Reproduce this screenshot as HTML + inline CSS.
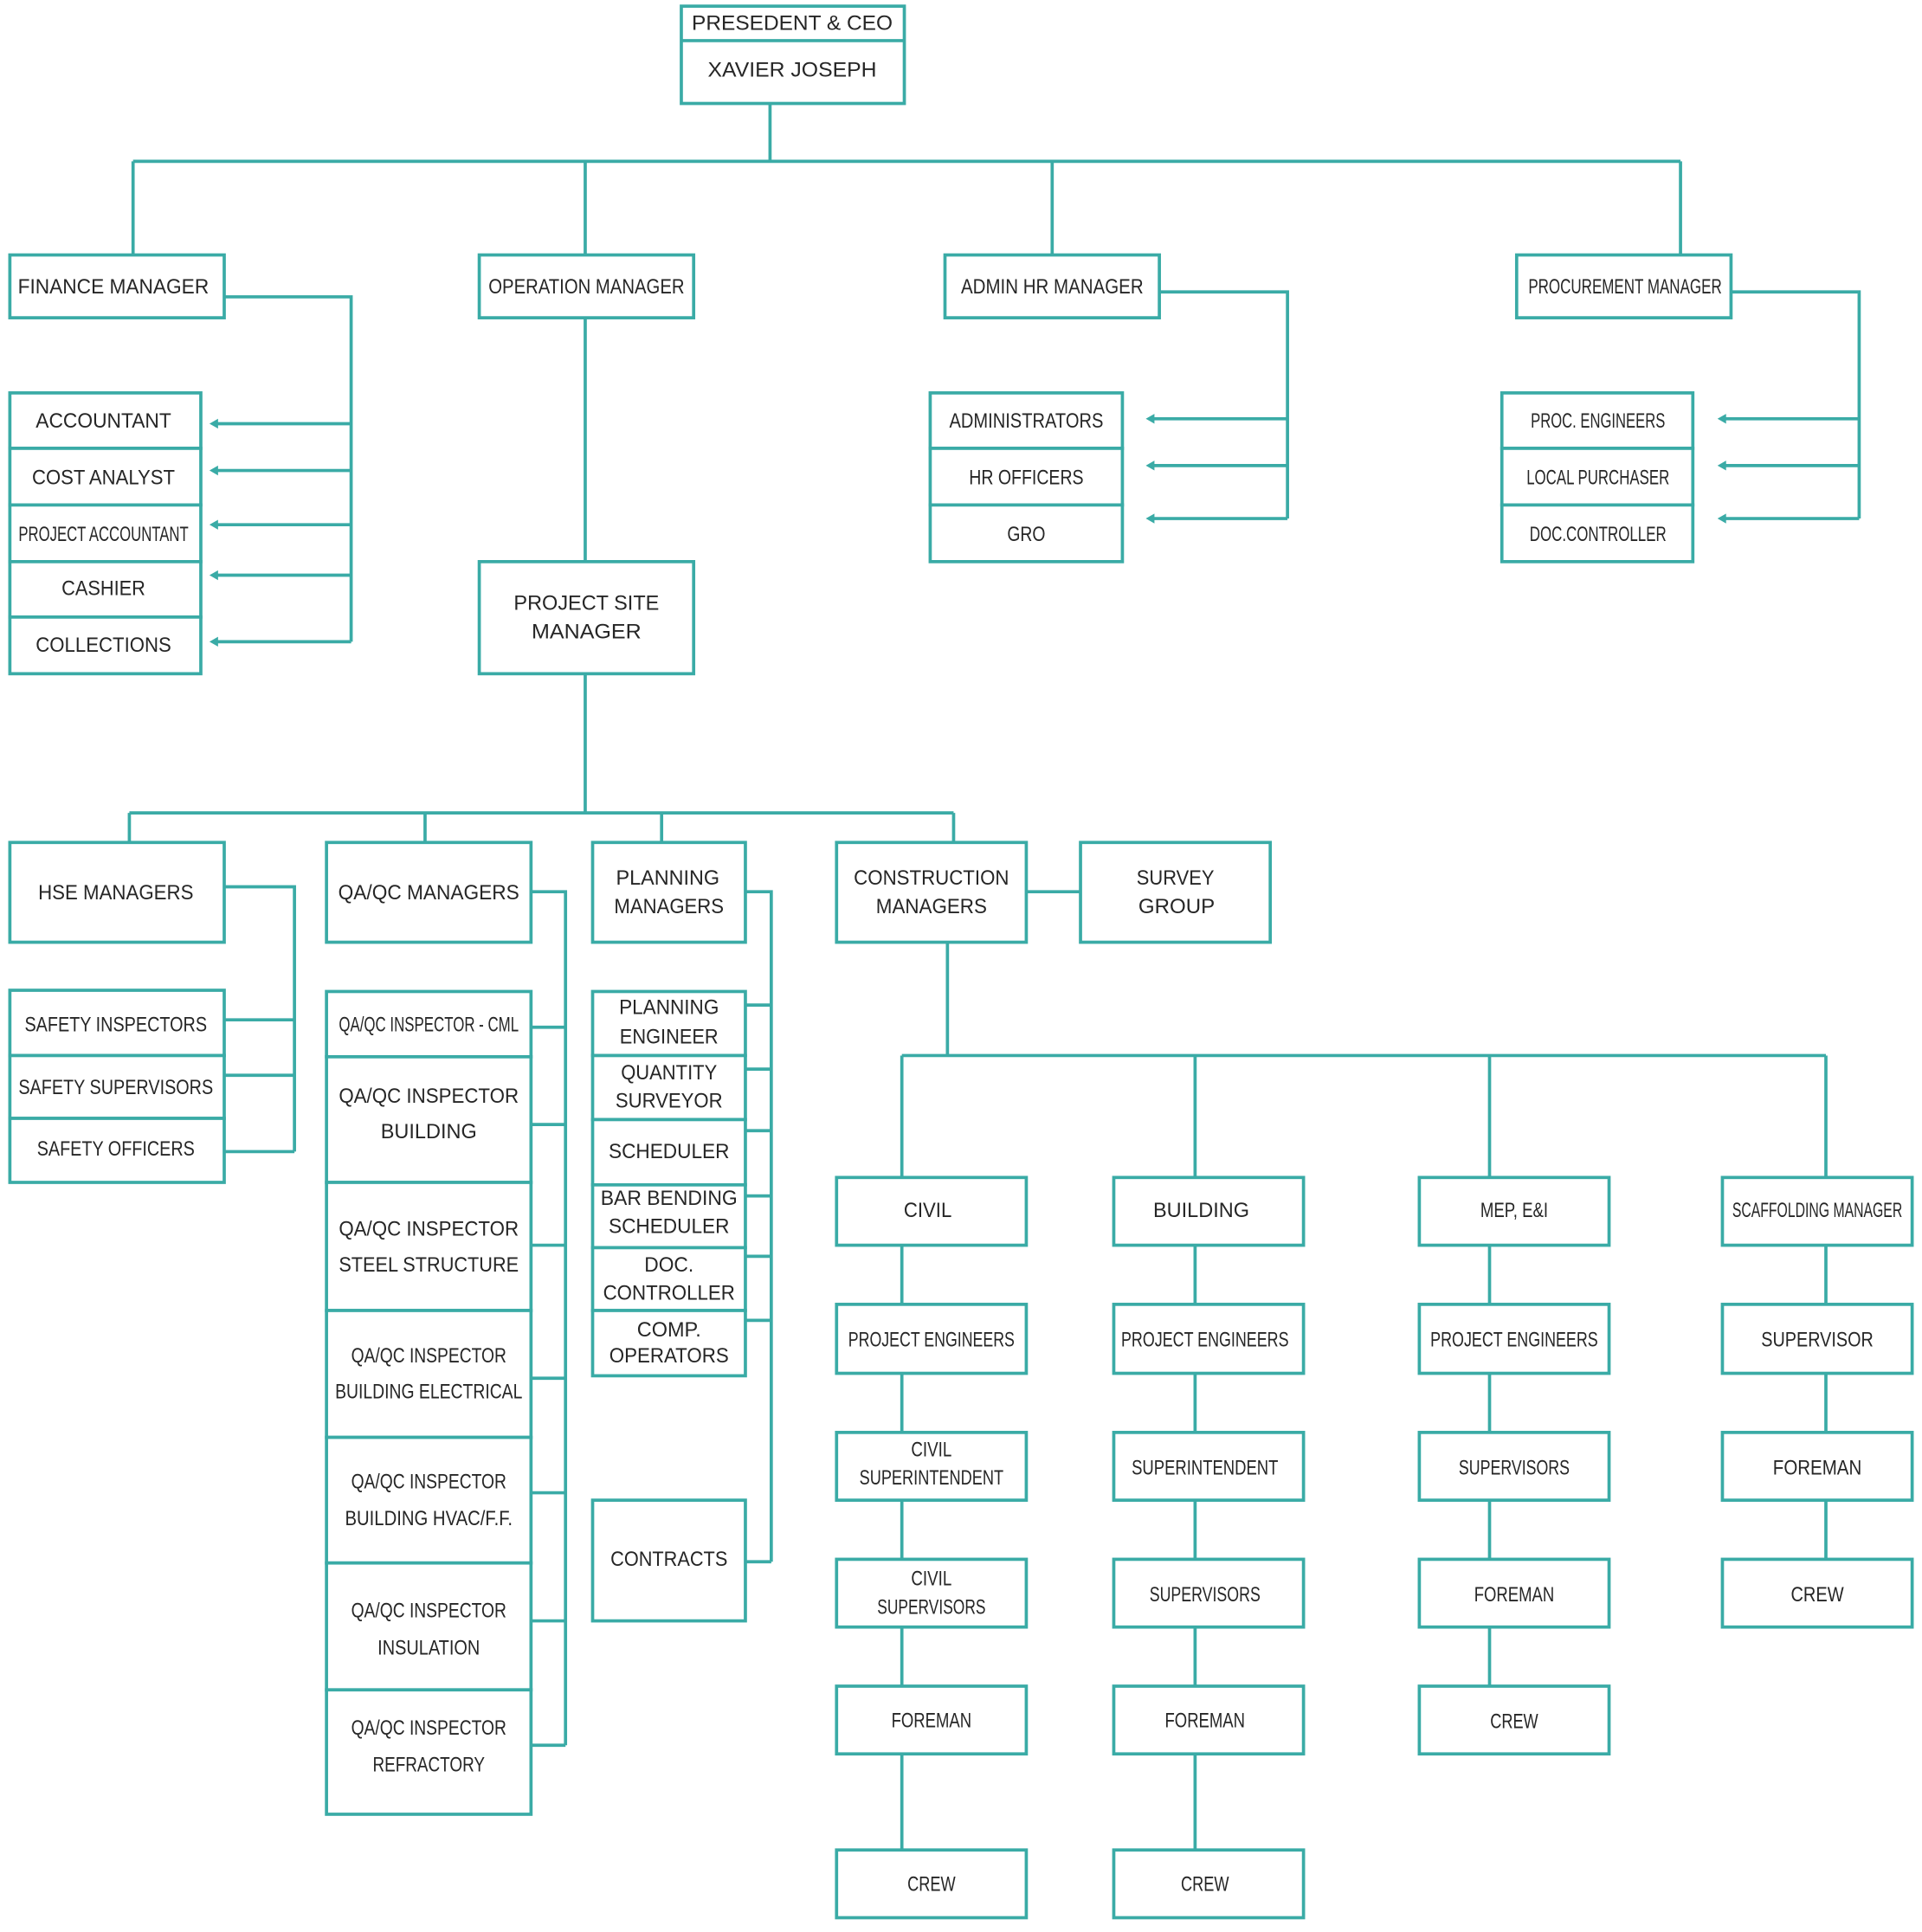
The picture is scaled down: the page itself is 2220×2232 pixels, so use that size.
<!DOCTYPE html>
<html><head><meta charset="utf-8"><style>
html,body{margin:0;padding:0;background:#fff;}
svg{display:block;}
text{font-family:"Liberation Sans",sans-serif;font-size:17px;fill:#262626;text-anchor:middle;dominant-baseline:central;}
rect{fill:#fff;stroke:#3aaba6;stroke-width:2.6;}
.l{fill:none;stroke:#3aaba6;stroke-width:2.6;}
.a{fill:#3aaba6;}
</style></head><body>
<svg width="2220" height="2232" viewBox="0 0 1560 1568.6" preserveAspectRatio="none">
<path class="l" d="M625,84V131M108,131H1364M108,131V207M475,131V207M854,131V207M1364,131V207"/>
<path class="l" d="M182,241H285V521M285,344H174M285,382H174M285,426H174M285,467H174M285,521H174"/>
<path class="l" d="M941,237H1045V421M1045,340H934M1045,378H934M1045,421H934"/>
<path class="l" d="M1405,237H1509V421M1509,340H1398M1509,378H1398M1509,421H1398"/>
<polygon class="a" points="170,344 177,340 177,348"/><polygon class="a" points="170,382 177,378 177,386"/><polygon class="a" points="170,426 177,422 177,430"/><polygon class="a" points="170,467 177,463 177,471"/><polygon class="a" points="170,521 177,517 177,525"/>
<polygon class="a" points="930,340 937,336 937,344"/><polygon class="a" points="930,378 937,374 937,382"/><polygon class="a" points="930,421 937,417 937,425"/>
<polygon class="a" points="1394,340 1401,336 1401,344"/><polygon class="a" points="1394,378 1401,374 1401,382"/><polygon class="a" points="1394,421 1401,417 1401,425"/>
<path class="l" d="M475,258V456M475,547V660M105,660H774M105,660V684M345,660V684M537,660V684M774,660V684"/>
<path class="l" d="M182,720H239V935M239,828H182M239,873H182M239,935H182"/>
<path class="l" d="M431,724H459V1417M459,834H431M459,913H431M459,1011H431M459,1119H431M459,1212H431M459,1316H431M459,1417H431"/>
<path class="l" d="M605,724H626V1268M626,816H605M626,868H605M626,918H605M626,971H605M626,1020H605M626,1072H605M626,1268H605"/>
<path class="l" d="M833,724H877M769,765V857M732,857H1482M732,857V956M970,857V956M1209,857V956M1482,857V956"/>
<path class="l" d="M732,1011V1502M970,1011V1502M1209,1011V1369M1482,1011V1266"/>
<rect x="553" y="5" width="181" height="79"/><path class="l" d="M553,33H734"/>
<text x="643" y="19" textLength="163" lengthAdjust="spacingAndGlyphs">PRESEDENT &amp; CEO</text>
<text x="643" y="57" textLength="137" lengthAdjust="spacingAndGlyphs">XAVIER JOSEPH</text>
<rect x="8" y="207" width="174" height="51"/><text x="92" y="233" textLength="155" lengthAdjust="spacingAndGlyphs">FINANCE MANAGER</text>
<rect x="389" y="207" width="174" height="51"/><text x="476" y="233" textLength="159" lengthAdjust="spacingAndGlyphs">OPERATION MANAGER</text>
<rect x="767" y="207" width="174" height="51"/><text x="854" y="233" textLength="148" lengthAdjust="spacingAndGlyphs">ADMIN HR MANAGER</text>
<rect x="1231" y="207" width="174" height="51"/><text x="1319" y="233" textLength="157" lengthAdjust="spacingAndGlyphs">PROCUREMENT MANAGER</text>
<rect x="8" y="319" width="155" height="45"/><text x="84" y="342" textLength="110" lengthAdjust="spacingAndGlyphs">ACCOUNTANT</text>
<rect x="8" y="364" width="155" height="46"/><text x="84" y="388" textLength="116" lengthAdjust="spacingAndGlyphs">COST ANALYST</text>
<rect x="8" y="410" width="155" height="46"/><text x="84" y="434" textLength="138" lengthAdjust="spacingAndGlyphs">PROJECT ACCOUNTANT</text>
<rect x="8" y="456" width="155" height="45"/><text x="84" y="478" textLength="68" lengthAdjust="spacingAndGlyphs">CASHIER</text>
<rect x="8" y="501" width="155" height="46"/><text x="84" y="524" textLength="110" lengthAdjust="spacingAndGlyphs">COLLECTIONS</text>
<rect x="755" y="319" width="156" height="45"/><text x="833" y="342" textLength="125" lengthAdjust="spacingAndGlyphs">ADMINISTRATORS</text>
<rect x="755" y="364" width="156" height="46"/><text x="833" y="388" textLength="93" lengthAdjust="spacingAndGlyphs">HR OFFICERS</text>
<rect x="755" y="410" width="156" height="46"/><text x="833" y="434" textLength="31" lengthAdjust="spacingAndGlyphs">GRO</text>
<rect x="1219" y="319" width="155" height="45"/><text x="1297" y="342" textLength="109" lengthAdjust="spacingAndGlyphs">PROC. ENGINEERS</text>
<rect x="1219" y="364" width="155" height="46"/><text x="1297" y="388" textLength="116" lengthAdjust="spacingAndGlyphs">LOCAL PURCHASER</text>
<rect x="1219" y="410" width="155" height="46"/><text x="1297" y="434" textLength="111" lengthAdjust="spacingAndGlyphs">DOC.CONTROLLER</text>
<rect x="389" y="456" width="174" height="91"/>
<text x="476" y="490" textLength="118" lengthAdjust="spacingAndGlyphs">PROJECT SITE</text>
<text x="476" y="513" textLength="89" lengthAdjust="spacingAndGlyphs">MANAGER</text>
<rect x="8" y="684" width="174" height="81"/><text x="94" y="725" textLength="126" lengthAdjust="spacingAndGlyphs">HSE MANAGERS</text>
<rect x="265" y="684" width="166" height="81"/><text x="348" y="725" textLength="147" lengthAdjust="spacingAndGlyphs">QA/QC MANAGERS</text>
<rect x="481" y="684" width="124" height="81"/><text x="542" y="713" textLength="84" lengthAdjust="spacingAndGlyphs">PLANNING</text><text x="543" y="736" textLength="89" lengthAdjust="spacingAndGlyphs">MANAGERS</text>
<rect x="679" y="684" width="154" height="81"/><text x="756" y="713" textLength="126" lengthAdjust="spacingAndGlyphs">CONSTRUCTION</text><text x="756" y="736" textLength="90" lengthAdjust="spacingAndGlyphs">MANAGERS</text>
<rect x="877" y="684" width="154" height="81"/><text x="954" y="713" textLength="63" lengthAdjust="spacingAndGlyphs">SURVEY</text><text x="955" y="736" textLength="62" lengthAdjust="spacingAndGlyphs">GROUP</text>
<rect x="8" y="804" width="174" height="53"/><text x="94" y="832" textLength="148" lengthAdjust="spacingAndGlyphs">SAFETY INSPECTORS</text>
<rect x="8" y="857" width="174" height="51"/><text x="94" y="883" textLength="158" lengthAdjust="spacingAndGlyphs">SAFETY SUPERVISORS</text>
<rect x="8" y="908" width="174" height="52"/><text x="94" y="933" textLength="128" lengthAdjust="spacingAndGlyphs">SAFETY OFFICERS</text>
<rect x="265" y="805" width="166" height="53"/><text x="348" y="832" textLength="146" lengthAdjust="spacingAndGlyphs">QA/QC INSPECTOR - CML</text>
<rect x="265" y="858" width="166" height="102"/><text x="348" y="890" textLength="146" lengthAdjust="spacingAndGlyphs">QA/QC INSPECTOR</text><text x="348" y="919" textLength="78" lengthAdjust="spacingAndGlyphs">BUILDING</text>
<rect x="265" y="960" width="166" height="104"/><text x="348" y="998" textLength="146" lengthAdjust="spacingAndGlyphs">QA/QC INSPECTOR</text><text x="348" y="1027" textLength="146" lengthAdjust="spacingAndGlyphs">STEEL STRUCTURE</text>
<rect x="265" y="1064" width="166" height="103"/><text x="348" y="1101" textLength="126" lengthAdjust="spacingAndGlyphs">QA/QC INSPECTOR</text><text x="348" y="1130" textLength="152" lengthAdjust="spacingAndGlyphs">BUILDING ELECTRICAL</text>
<rect x="265" y="1167" width="166" height="102"/><text x="348" y="1203" textLength="126" lengthAdjust="spacingAndGlyphs">QA/QC INSPECTOR</text><text x="348" y="1233" textLength="136" lengthAdjust="spacingAndGlyphs">BUILDING HVAC/F.F.</text>
<rect x="265" y="1269" width="166" height="103"/><text x="348" y="1308" textLength="126" lengthAdjust="spacingAndGlyphs">QA/QC INSPECTOR</text><text x="348" y="1338" textLength="83" lengthAdjust="spacingAndGlyphs">INSULATION</text>
<rect x="265" y="1372" width="166" height="101"/><text x="348" y="1403" textLength="126" lengthAdjust="spacingAndGlyphs">QA/QC INSPECTOR</text><text x="348" y="1433" textLength="91" lengthAdjust="spacingAndGlyphs">REFRACTORY</text>
<rect x="481" y="805" width="124" height="52"/><text x="543" y="818" textLength="81" lengthAdjust="spacingAndGlyphs">PLANNING</text><text x="543" y="842" textLength="80" lengthAdjust="spacingAndGlyphs">ENGINEER</text>
<rect x="481" y="857" width="124" height="52"/><text x="543" y="871" textLength="78" lengthAdjust="spacingAndGlyphs">QUANTITY</text><text x="543" y="894" textLength="87" lengthAdjust="spacingAndGlyphs">SURVEYOR</text>
<rect x="481" y="909" width="124" height="53"/><text x="543" y="935" textLength="98" lengthAdjust="spacingAndGlyphs">SCHEDULER</text>
<rect x="481" y="962" width="124" height="51"/><text x="543" y="973" textLength="111" lengthAdjust="spacingAndGlyphs">BAR BENDING</text><text x="543" y="996" textLength="98" lengthAdjust="spacingAndGlyphs">SCHEDULER</text>
<rect x="481" y="1013" width="124" height="51"/><text x="543" y="1027" textLength="40" lengthAdjust="spacingAndGlyphs">DOC.</text><text x="543" y="1050" textLength="107" lengthAdjust="spacingAndGlyphs">CONTROLLER</text>
<rect x="481" y="1064" width="124" height="53"/><text x="543" y="1080" textLength="52" lengthAdjust="spacingAndGlyphs">COMP.</text><text x="543" y="1101" textLength="97" lengthAdjust="spacingAndGlyphs">OPERATORS</text>
<rect x="481" y="1218" width="124" height="98"/><text x="543" y="1266" textLength="95" lengthAdjust="spacingAndGlyphs">CONTRACTS</text>
<rect x="679" y="956" width="154" height="55"/><text x="753" y="983" textLength="39" lengthAdjust="spacingAndGlyphs">CIVIL</text>
<rect x="679" y="1059" width="154" height="56"/><text x="756" y="1088" textLength="135" lengthAdjust="spacingAndGlyphs">PROJECT ENGINEERS</text>
<rect x="679" y="1163" width="154" height="55"/><text x="756" y="1177" textLength="33" lengthAdjust="spacingAndGlyphs">CIVIL</text><text x="756" y="1200" textLength="117" lengthAdjust="spacingAndGlyphs">SUPERINTENDENT</text>
<rect x="679" y="1266" width="154" height="55"/><text x="756" y="1282" textLength="33" lengthAdjust="spacingAndGlyphs">CIVIL</text><text x="756" y="1305" textLength="88" lengthAdjust="spacingAndGlyphs">SUPERVISORS</text>
<rect x="679" y="1369" width="154" height="55"/><text x="756" y="1397" textLength="65" lengthAdjust="spacingAndGlyphs">FOREMAN</text>
<rect x="679" y="1502" width="154" height="55"/><text x="756" y="1530" textLength="39" lengthAdjust="spacingAndGlyphs">CREW</text>
<rect x="904" y="956" width="154" height="55"/><text x="975" y="983" textLength="78" lengthAdjust="spacingAndGlyphs">BUILDING</text>
<rect x="904" y="1059" width="154" height="56"/><text x="978" y="1088" textLength="136" lengthAdjust="spacingAndGlyphs">PROJECT ENGINEERS</text>
<rect x="904" y="1163" width="154" height="55"/><text x="978" y="1192" textLength="119" lengthAdjust="spacingAndGlyphs">SUPERINTENDENT</text>
<rect x="904" y="1266" width="154" height="55"/><text x="978" y="1295" textLength="90" lengthAdjust="spacingAndGlyphs">SUPERVISORS</text>
<rect x="904" y="1369" width="154" height="55"/><text x="978" y="1397" textLength="65" lengthAdjust="spacingAndGlyphs">FOREMAN</text>
<rect x="904" y="1502" width="154" height="55"/><text x="978" y="1530" textLength="39" lengthAdjust="spacingAndGlyphs">CREW</text>
<rect x="1152" y="956" width="154" height="55"/><text x="1229" y="983" textLength="55" lengthAdjust="spacingAndGlyphs">MEP, E&amp;I</text>
<rect x="1152" y="1059" width="154" height="56"/><text x="1229" y="1088" textLength="136" lengthAdjust="spacingAndGlyphs">PROJECT ENGINEERS</text>
<rect x="1152" y="1163" width="154" height="55"/><text x="1229" y="1192" textLength="90" lengthAdjust="spacingAndGlyphs">SUPERVISORS</text>
<rect x="1152" y="1266" width="154" height="55"/><text x="1229" y="1295" textLength="65" lengthAdjust="spacingAndGlyphs">FOREMAN</text>
<rect x="1152" y="1369" width="154" height="55"/><text x="1229" y="1398" textLength="39" lengthAdjust="spacingAndGlyphs">CREW</text>
<rect x="1398" y="956" width="154" height="55"/><text x="1475" y="983" textLength="138" lengthAdjust="spacingAndGlyphs">SCAFFOLDING MANAGER</text>
<rect x="1398" y="1059" width="154" height="56"/><text x="1475" y="1088" textLength="91" lengthAdjust="spacingAndGlyphs">SUPERVISOR</text>
<rect x="1398" y="1163" width="154" height="55"/><text x="1475" y="1192" textLength="72" lengthAdjust="spacingAndGlyphs">FOREMAN</text>
<rect x="1398" y="1266" width="154" height="55"/><text x="1475" y="1295" textLength="43" lengthAdjust="spacingAndGlyphs">CREW</text>
</svg>
</body></html>
